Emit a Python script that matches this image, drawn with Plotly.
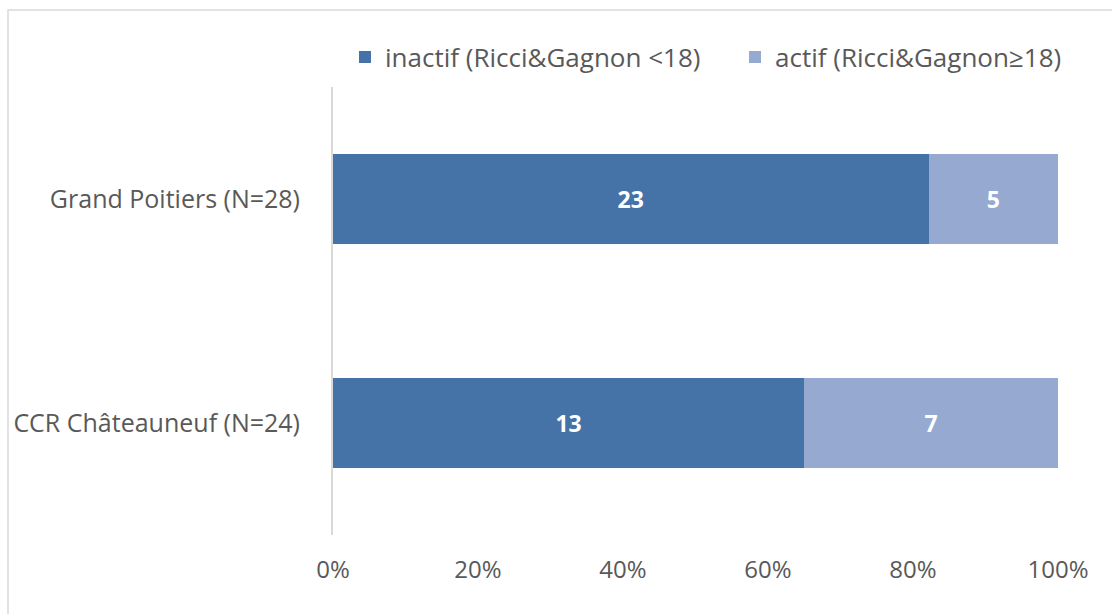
import plotly.graph_objects as go

categories = ["Grand Poitiers (N=28)", "CCR Châteauneuf (N=24)"]
inactif = [23, 13]
actif = [5, 7]
series_names = ["inactif (Ricci&Gagnon <18)", "actif (Ricci&Gagnon≥18)"]
tick_vals = [0, 20, 40, 60, 80, 100]
tick_text = ["0%", "20%", "40%", "60%", "80%", "100%"]

totals = [a + b for a, b in zip(inactif, actif)]
pct_inactif = [100 * a / t for a, t in zip(inactif, totals)]
pct_actif = [100 * b / t for b, t in zip(actif, totals)]

font_family = "Open Sans, Lato, sans-serif"
grey = "#595959"

# plot area in pixels: x 333..1058, y 87..535
fig = go.Figure()
for vals, counts, name, color, leg in [
    (pct_inactif, inactif, series_names[0], "#4573A7", "legend"),
    (pct_actif, actif, series_names[1], "#95A9D1", "legend2"),
]:
    fig.add_trace(go.Bar(
        y=categories, x=vals, orientation="h", name=name, legend=leg,
        marker=dict(color=color, line=dict(width=0)),
        text=[str(v) for v in counts], textposition="inside",
        insidetextanchor="middle",
        textfont=dict(color="white", size=23, family=font_family, weight="bold"),
        width=0.4,
    ))

legend_common = dict(orientation="h", xanchor="left",
                     y=(535 - 57) / 448, yanchor="middle", yref="paper",
                     font=dict(size=26, color=grey), bgcolor="rgba(0,0,0,0)",
                     itemwidth=30)

fig.update_layout(
    barmode="stack",
    width=1112, height=614,
    margin=dict(l=333, r=54, t=87, b=79, autoexpand=False),
    paper_bgcolor="white", plot_bgcolor="white",
    font=dict(family=font_family, color=grey, size=24),
    showlegend=True,
    legend=dict(x=12 / 725, **legend_common),
    legend2=dict(x=(735 - 333) / 725, **legend_common),
    xaxis=dict(range=[0, 100], tickvals=tick_vals, ticktext=tick_text,
               showgrid=False, zeroline=False, showline=False, ticks="",
               tickfont=dict(size=24, color=grey), ticklabelstandoff=18,
               fixedrange=True),
    yaxis=dict(autorange="reversed", showgrid=False, zeroline=False,
               showline=True, linecolor="#D9D9D9", linewidth=2, ticks="",
               tickfont=dict(size=25, color=grey), ticklabelstandoff=26),
    uniformtext=dict(minsize=10, mode="show"),
    shapes=[dict(type="rect", xref="paper", yref="paper",
                 x0=(8 - 333) / 725, x1=1.2,
                 y0=-0.3, y1=(535 - 10) / 448,
                 line=dict(color="#D9D9D9", width=1.5),
                 fillcolor="rgba(0,0,0,0)", layer="below")],
)

fig.write_html("out.html")
